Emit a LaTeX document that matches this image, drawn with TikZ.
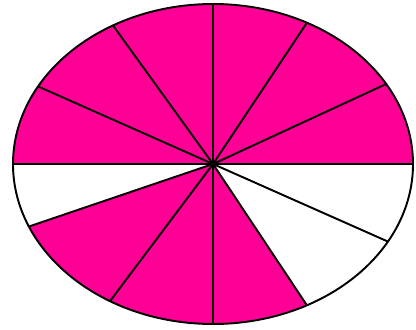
\documentclass[tikz,border=0pt]{standalone}
\usepackage{tikz}
\definecolor{rosaFuerte}{RGB}{255, 0, 150}

\begin{document}
\begin{tikzpicture}[x=0.02cm, y=0.02cm,
            sector/.style={fill=rosaFuerte},
            radio/.style={line width=1.1pt, black}]

            \useasboundingbox (0,0) rectangle (416,329);
            \coordinate (c) at (213,165);

            % sectores coloreados (los blancos se omiten)
            \foreach \a/\b in {0/30,30/62,62/90,90/120,120/151,151/180,203/239,239/270,270/298}
                \fill[sector] (c) -- ++(\a:200 and 160) arc[start angle=\a, end angle=\b, x radius=200, y radius=160] -- cycle;

            \foreach \a in {0,30,62,90,120,151,180,203,239,270,298,331}
                \draw[radio] (c) -- ++(\a:200 and 160);

            \draw[radio] (c) ellipse[x radius=200, y radius=160];
            \fill (c) circle[radius=3];
        \end{tikzpicture}
\end{document}
